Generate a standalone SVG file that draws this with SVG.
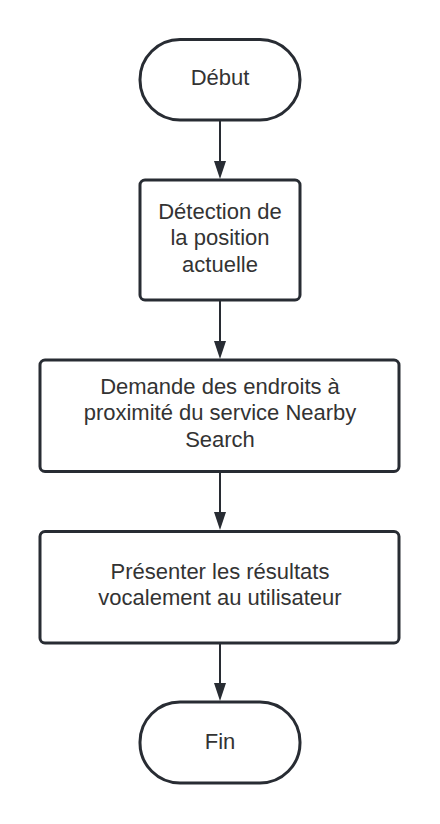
<svg xmlns="http://www.w3.org/2000/svg" width="440" height="824" viewBox="0 0 440 824">
  <style>
    .shape { fill: #ffffff; stroke: #282c33; stroke-width: 3; }
    .label { font-family: "Liberation Sans", Arial, sans-serif; font-size: 22px; fill: #333333; text-anchor: middle; }
    .edge { stroke: #282c33; stroke-width: 2; fill: none; }
  </style>
  <defs>
    <marker id="arrow" viewBox="0 0 18 12" refX="15" refY="6" markerWidth="18" markerHeight="12" markerUnits="userSpaceOnUse" orient="auto">
      <polygon points="0,0 18,6 0,12" fill="#282c33"/>
    </marker>
  </defs>
  <rect width="440" height="824" fill="#ffffff"/>

  <g id="connectors">
    <line class="edge" x1="220" y1="121" x2="220" y2="176" marker-end="url(#arrow)"/>
    <line class="edge" x1="220" y1="301" x2="220" y2="356" marker-end="url(#arrow)"/>
    <line class="edge" x1="220" y1="472" x2="220" y2="527" marker-end="url(#arrow)"/>
    <line class="edge" x1="220" y1="644" x2="220" y2="698" marker-end="url(#arrow)"/>
  </g>

  <g id="debut">
    <rect class="shape" x="140" y="39.5" width="160" height="80.5" rx="40" ry="40"/>
    <text class="label" x="220" y="85">Début</text>
  </g>

  <g id="detection">
    <rect class="shape" x="140" y="180" width="160" height="120" rx="5" ry="5"/>
    <text class="label" x="220" y="218.5">Détection de</text>
    <text class="label" x="220" y="245">la position</text>
    <text class="label" x="220" y="271.5">actuelle</text>
  </g>

  <g id="demande">
    <rect class="shape" x="40" y="360" width="359" height="111.5" rx="5" ry="5"/>
    <text class="label" x="220" y="393.5">Demande des endroits à</text>
    <text class="label" x="220" y="420">proximité du service Nearby</text>
    <text class="label" x="220" y="446.5">Search</text>
  </g>

  <g id="presenter">
    <rect class="shape" x="40" y="531.5" width="359" height="111.5" rx="5" ry="5"/>
    <text class="label" x="220" y="578.5">Présenter les résultats</text>
    <text class="label" x="220" y="605">vocalement au utilisateur</text>
  </g>

  <g id="fin">
    <rect class="shape" x="140" y="702" width="160" height="81" rx="40" ry="40"/>
    <text class="label" x="220" y="748.5">Fin</text>
  </g>
</svg>
